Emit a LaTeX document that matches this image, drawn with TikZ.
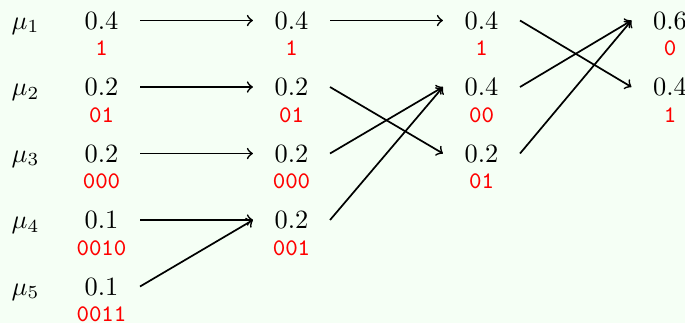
\documentclass[tikz,border=0pt]{standalone}
\definecolor{bgc}{RGB}{245,255,245}
\definecolor{codered}{RGB}{255,0,0}
\begin{document}
\begin{tikzpicture}[x=0.3788pt,y=-0.3788pt,
  num/.style={inner xsep=8pt,inner ysep=0pt},
  code/.style={text=codered,font=\fontsize{9}{10}\selectfont\ttfamily,inner sep=0pt},
  mulab/.style={anchor=base,inner sep=0pt},
  arr/.style={->,line width=0.65pt}]
\fill[bgc] (0,0) rectangle (685,323);
\useasboundingbox (0,0) rectangle (685,323);
% mu labels
\foreach \i/\y in {1/20.5,2/87,3/153.5,4/220,5/286.5}
  \node[mulab] (m\i) at (25.5,\y+8.5) {$\mu_{\i}$};
% column 1
\node[num] (a1) at (101.5,20.5) {0.4};
\node[num] (a2) at (101.5,87) {0.2};
\node[num] (a3) at (101.5,153.5) {0.2};
\node[num] (a4) at (101.5,220) {0.1};
\node[num] (a5) at (101.5,286.5) {0.1};
\node[code] (ca1) at (101.5,48.5) {1};
\node[code] (ca2) at (101.5,115) {01};
\node[code] (ca3) at (101.5,181.5) {000};
\node[code] (ca4) at (101.5,248) {0010};
\node[code] (ca5) at (101.5,314.5) {0011};
% column 2
\node[num] (b1) at (291.5,20.5) {0.4};
\node[num] (b2) at (291.5,87) {0.2};
\node[num] (b3) at (291.5,153.5) {0.2};
\node[num] (b4) at (291.5,220) {0.2};
\node[code] (cb1) at (291.5,48.5) {1};
\node[code] (cb2) at (291.5,115) {01};
\node[code] (cb3) at (291.5,181.5) {000};
\node[code] (cb4) at (291.5,248) {001};
% column 3
\node[num] (c1) at (481.5,20.5) {0.4};
\node[num] (c2) at (481.5,87) {0.4};
\node[num] (c3) at (481.5,153.5) {0.2};
\node[code] (cc1) at (481.5,48.5) {1};
\node[code] (cc2) at (481.5,115) {00};
\node[code] (cc3) at (481.5,181.5) {01};
% column 4
\node[num] (d1) at (670,20.5) {0.6};
\node[num] (d2) at (670,87) {0.4};
\node[code] (cd1) at (670,48.5) {0};
\node[code] (cd2) at (670,115) {1};
% arrows col1 -> col2
\draw[arr] (a1.east) -- (b1.west);
\draw[arr] (a2.east) -- (b2.west);
\draw[arr] (a3.east) -- (b3.west);
\draw[arr] (a4.east) -- (b4.west);
\draw[arr] (a5.east) -- (b4.west);
% col2 -> col3
\draw[arr] (b1.east) -- (c1.west);
\draw[arr] (b2.east) -- (c3.west);
\draw[arr] (b3.east) -- (c2.west);
\draw[arr] (b4.east) -- (c2.west);
% col3 -> col4
\draw[arr] (c1.east) -- (d2.west);
\draw[arr] (c2.east) -- (d1.west);
\draw[arr] (c3.east) -- (d1.west);
\end{tikzpicture}
\end{document}
